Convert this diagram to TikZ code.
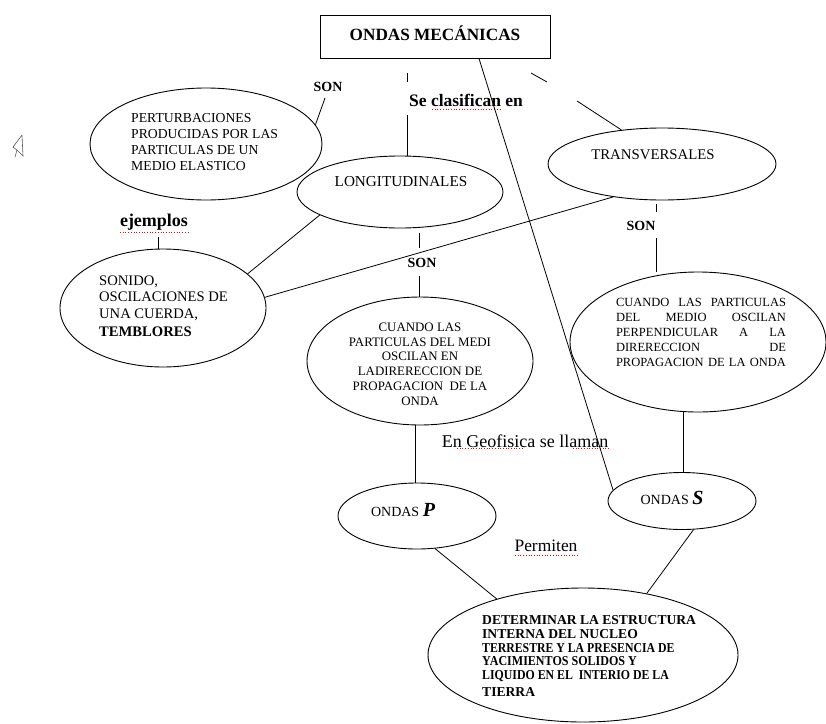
\documentclass[tikz,border=0pt]{standalone}
\usepackage{fontspec}
\setmainfont{Liberation Serif}
\usetikzlibrary{shapes.geometric}
\begin{document}
\begin{tikzpicture}[x=1pt,y=-1pt,
  ell/.style={draw, ellipse, inner sep=0pt, line width=0.9pt},
  conn/.style={line width=0.8pt},
  lbl/.style={inner sep=0pt, font=\fontsize{14}{16}\selectfont\bfseries},
  etext/.style={inner sep=0pt, font=\fontsize{12.5}{16}\selectfont, align=left},
  plain/.style={inner sep=0pt, font=\fontsize{18}{20}\selectfont},
  squig/.style={red, dotted, line width=0.7pt},
]
\useasboundingbox (0,0) rectangle (826,723);
% title
\node[draw, line width=1pt, minimum width=230pt, minimum height=43pt, inner sep=0pt] (title) at (435,36.5) {};
\node[inner sep=0pt, font=\fontsize{17.2}{19}\selectfont\bfseries] (titletxt) at (435,33) {ONDAS MECÁNICAS};
% ellipses
\node[ell, minimum width=232pt, minimum height=112pt] (pert) at (206,144) {};
\node[ell, minimum width=206pt, minimum height=72pt] (longi) at (400,192) {};
\node[ell, minimum width=228pt, minimum height=72pt] (trans) at (662,164) {};
\node[ell, minimum width=206pt, minimum height=118pt] (sonido) at (163,308) {};
\node[ell, minimum width=226pt, minimum height=128pt] (medi) at (420,361) {};
\node[ell, minimum width=256pt, minimum height=140pt] (perp) at (698,342) {};
\node[ell, minimum width=158pt, minimum height=66pt] (ondasP) at (417,516) {};
\node[ell, minimum width=148pt, minimum height=57pt] (ondasS) at (682,501) {};
\node[ell, minimum width=310pt, minimum height=134pt] (bottom) at (583,655) {};
% ellipse texts
\node[etext, anchor=west, font=\fontsize{13.7}{16.3}\selectfont] (perttxt) at (131,142) {PERTURBACIONES\\PRODUCIDAS POR LAS\\PARTICULAS DE UN\\MEDIO ELASTICO};
\node[etext, font=\fontsize{15.2}{17}\selectfont] (longitxt) at (401,182) {LONGITUDINALES};
\node[etext, font=\fontsize{14.8}{17}\selectfont] (transtxt) at (653,155) {TRANSVERSALES};
\node[etext, anchor=west, font=\fontsize{14.6}{16.5}\selectfont] (sonidotxt) at (99,306) {SONIDO,\\OSCILACIONES DE\\UNA CUERDA,\\[2pt]{\fontsize{14.6}{16}\selectfont\bfseries TEMBLORES}};
\node[etext, align=center, font=\fontsize{12.9}{14.8}\selectfont] (meditxt) at (420,364) {CUANDO LAS\\PARTICULAS DEL MEDI\\OSCILAN EN\\LADIRERECCION DE\\PROPAGACION\ \ DE LA\\ONDA};
\node[etext, font=\fontsize{12.5}{15}\selectfont] (perptxt) at (701,332) {\makebox[170pt][s]{CUANDO LAS PARTICULAS}\\\makebox[170pt][s]{DEL MEDIO OSCILAN}\\\makebox[170pt][s]{PERPENDICULAR A LA}\\\makebox[170pt][s]{DIRERECCION DE}\\\makebox[170pt][s]{PROPAGACION DE LA ONDA}};
\node[inner sep=0pt] (ptxt) at (403,510) {\fontsize{14}{16}\selectfont ONDAS \fontsize{20}{20}\selectfont\bfseries\itshape P};
\node[inner sep=0pt] (stxt) at (672,498) {\fontsize{14}{16}\selectfont ONDAS \fontsize{20}{20}\selectfont\bfseries\itshape S};
\node[etext, anchor=west, font=\fontsize{13.6}{13.8}\selectfont\bfseries] (bottomtxt) at (482,656) {DETERMINAR LA ESTRUCTURA\\INTERNA DEL NUCLEO\\\scalebox{0.865}[1]{TERRESTRE Y LA PRESENCIA DE}\\\scalebox{0.886}[1]{YACIMIENTOS SOLIDOS Y}\\\scalebox{0.87}[1]{LIQUIDO EN EL\ \ INTERIO DE LA}\\[3pt]TIERRA};
% labels
\node[lbl] (sonA) at (328,87) {SON};
\node[lbl, font=\fontsize{17.5}{19}\selectfont\bfseries] (se) at (466,100) {Se clasifican en};
\node[lbl, font=\fontsize{18}{20}\selectfont\bfseries] (ejemplos) at (154,222) {ejemplos};
\node[lbl] (sonB) at (422,263) {SON};
\node[lbl] (sonC) at (641,226) {SON};
\node[plain] (geo) at (525,441) {En Geofisica se llaman};
\node[plain, font=\fontsize{17.4}{19}\selectfont] (permiten) at (546,546) {Permiten};
% spell-check underlines
\draw[squig] (432,109) -- (500,109);
\draw[squig] (120,232) -- (188,232);
\draw[squig] (457,448) -- (523,448);
\draw[squig] (573,448) -- (610,448);
\draw[squig] (515,555) -- (578,555);
% free coordinates
\coordinate (pA) at (325,98);
\coordinate (d1) at (407,73);
\coordinate (d2) at (407,82);
\coordinate (d3) at (407,115);
\coordinate (t1) at (531,73);
\coordinate (t2) at (547,82);
\coordinate (t3) at (577,101);
\coordinate (e1) at (158,237);
\coordinate (b1) at (419,233);
\coordinate (b2) at (419,248);
\coordinate (b3) at (419,276);
\coordinate (c1) at (656,204);
\coordinate (c2) at (656,212);
\coordinate (c3) at (656,238);
% connectors
\draw[conn] (pA) -- (pert.10);
\draw[conn] (d1) -- (d2);
\draw[conn] (d3) -- (d3 |- longi.north);
\draw[conn] (t1) -- (t2);
\draw[conn] (t3) -- (trans.140);
\draw[conn] ([xshift=44pt]title.south) -- (ondasS.171);
\draw[conn] (trans.214) -- (sonido.6);
\draw[conn] (longi.196) -- (sonido.22);
\draw[conn] (e1) -- (e1 |- sonido.north);
\draw[conn] (b1) -- (b2);
\draw[conn] (b3) -- (b3 |- medi.north);
\draw[conn] (c1) -- (c2);
\draw[conn] (c3) -- (c3 |- perp.north);
\draw[conn] ([xshift=-15pt]perp.south) -- ([xshift=1pt]ondasS.north);
\draw[conn] ([xshift=-5pt]medi.south) -- ([xshift=-2pt]ondasP.north);
\draw[conn] (ondasP.-61) -- (bottom.147);
\draw[conn] (ondasS.-68) -- (bottom.44);
% cursor mark
\draw[line width=0.6pt, gray!70!black] (22,135) -- (13,147) -- (17,150) -- (15,157) (17,150) -- (23,156) -- (22,135);
\end{tikzpicture}
\end{document}
